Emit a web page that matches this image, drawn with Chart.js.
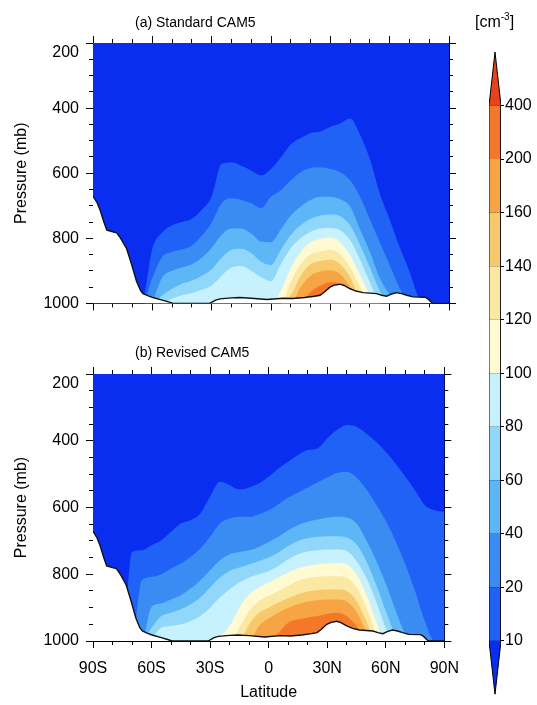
<!DOCTYPE html>
<html lang="en">
<head>
<meta charset="utf-8">
<title>Aerosol number concentration, CAM5</title>
<script src="https://cdn.jsdelivr.net/npm/chart.js@4/dist/chart.umd.min.js"></script>
<style>
  html, body { margin: 0; padding: 0; background: #fff; }
  #figure { position: relative; width: 537px; height: 705px; overflow: hidden;
            font-family: "Liberation Sans", Arial, Helvetica, sans-serif; color: #000; }
  #figure canvas { position: absolute; }
  .label { position: absolute; white-space: nowrap; line-height: 1; }
  .panel-title { font-size: 14px; }
  .unit { font-size: 16px; }
  .unit sup { font-size: 10px; vertical-align: 0; position: relative; top: -7px; }
</style>
</head>
<body>
<div id="figure">
  <canvas id="panelA" width="470" height="320" style="left:0;top:0"></canvas>
  <canvas id="panelB" width="470" height="375" style="left:0;top:330px"></canvas>
  <canvas id="colorbar" width="67" height="705" style="left:470px;top:0"></canvas>
  <div class="label panel-title" style="left:135px;top:15px">(a) Standard CAM5</div>
  <div class="label panel-title" style="left:135px;top:345px">(b) Revised CAM5</div>
  <div class="label unit" style="left:475px;top:14px">[cm<sup>-3</sup>]</div>
</div>
<script>
// latitude grid of the contour edges (deg, S negative)
const lats = [-90, -85, -80, -75, -70, -65, -60, -55, -50, -45, -40, -35, -30,
  -25, -20, -15, -10, -5, 0, 5, 10, 15, 20, 25, 30,
  35, 40, 45, 50, 55, 60, 65, 70, 75, 80, 85, 90];

const levelLabels = ['10', '20', '40', '60', '80', '100', '120', '140', '160', '200', '400'];
const latTickLabels = ['90S', '60S', '30S', '0', '30N', '60N', '90N'];

// <10, 10-20, 20-40, ... , 200-400, >400
const binColors = ['#0a2ef0', '#1f62f5', '#3a8cf3', '#5db6f6', '#90d7fa', '#c6f1fd',
  '#fffad2', '#fbe8a2', '#f8c96c', '#f7a444', '#f3782a', '#e6421b'];

// surface pressure (mb)
const terrainLat = [-90, -88, -86.5, -84.5, -83, -80, -78, -76, -73, -70.5, -68, -66, -64.7, -62,
  -59.7, -55, -51, -49.6, -31, -28, -25.8, -20, -15.7, -10, -2, 6, 11, 17, 22, 24.8, 27,
  29.8, 32, 34.9, 37, 40, 43, 46.5, 53.4, 56, 58.5, 61, 63.5, 66, 68.6, 71.8, 77.9, 79.5,
  81.2, 82, 90];
const terrainP = [671, 690, 712, 750, 775, 780, 783, 800, 832, 880, 932, 960, 970, 977,
  982, 990, 997, 1000, 1000, 990, 986, 983, 982, 984, 988, 984, 985, 982, 978, 975, 965,
  950, 944, 941, 945, 955, 962, 967, 970, 975, 978, 971, 967, 970, 975, 980, 981, 987,
  997, 1000, 1000];

// (a) Standard CAM5: pressure (mb) of the upper edge of each level, 1000 = absent
const stdP10 = [1000, 1000, 1000, 1000, 1000, 990, 832, 782, 760, 750, 740, 712, 672,
  572, 567, 577, 592, 607, 587, 552, 512, 492, 477, 472, 457,
  447, 432, 482, 557, 662, 742, 827, 902, 985, 1000, 1000, 1000];
const stdP20 = [1000, 1000, 1000, 1000, 1000, 1000, 922, 857, 842, 834, 822, 792, 752,
  692, 677, 682, 692, 707, 672, 652, 622, 597, 584, 582, 587,
  597, 622, 672, 742, 812, 882, 952, 1000, 1000, 1000, 1000, 1000];
const stdP40 = [1000, 1000, 1000, 1000, 1000, 1000, 990, 920, 900, 890, 880, 860, 830,
  790, 770, 770, 785, 810, 812, 772, 730, 702, 682, 672, 672,
  680, 702, 772, 842, 922, 972, 1000, 1000, 1000, 1000, 1000, 1000];
const stdP60 = [1000, 1000, 1000, 1000, 1000, 1000, 1000, 975, 955, 940, 930, 915, 895,
  860, 835, 832, 845, 872, 882, 835, 790, 760, 740, 730, 727,
  732, 760, 820, 890, 960, 1000, 1000, 1000, 1000, 1000, 1000, 1000];
const stdP80 = [1000, 1000, 1000, 1000, 1000, 1000, 1000, 1000, 985, 975, 968, 958, 945,
  915, 890, 885, 900, 920, 932, 880, 830, 800, 780, 770, 768,
  775, 805, 865, 935, 995, 1000, 1000, 1000, 1000, 1000, 1000, 1000];
const stdP100 = [1000, 1000, 1000, 1000, 1000, 1000, 1000, 1000, 1000, 1000, 1000, 1000, 1000,
  1000, 1000, 1000, 1000, 1000, 1000, 960, 892, 842, 812, 802, 797,
  812, 852, 912, 972, 1000, 1000, 1000, 1000, 1000, 1000, 1000, 1000];
const stdP120 = [1000, 1000, 1000, 1000, 1000, 1000, 1000, 1000, 1000, 1000, 1000, 1000, 1000,
  1000, 1000, 1000, 1000, 1000, 1000, 1000, 935, 880, 850, 840, 835,
  850, 890, 950, 1000, 1000, 1000, 1000, 1000, 1000, 1000, 1000, 1000];
const stdP140 = [1000, 1000, 1000, 1000, 1000, 1000, 1000, 1000, 1000, 1000, 1000, 1000, 1000,
  1000, 1000, 1000, 1000, 1000, 1000, 1000, 975, 915, 880, 870, 866,
  880, 920, 985, 1000, 1000, 1000, 1000, 1000, 1000, 1000, 1000, 1000];
const stdP160 = [1000, 1000, 1000, 1000, 1000, 1000, 1000, 1000, 1000, 1000, 1000, 1000, 1000,
  1000, 1000, 1000, 1000, 1000, 1000, 1000, 1000, 950, 915, 902, 898,
  910, 950, 1000, 1000, 1000, 1000, 1000, 1000, 1000, 1000, 1000, 1000];
const stdP200 = [1000, 1000, 1000, 1000, 1000, 1000, 1000, 1000, 1000, 1000, 1000, 1000, 1000,
  1000, 1000, 1000, 1000, 1000, 1000, 1000, 1000, 1000, 965, 945, 935,
  940, 975, 1000, 1000, 1000, 1000, 1000, 1000, 1000, 1000, 1000, 1000];

// (b) Revised CAM5
const revP10 = [1000, 1000, 1000, 1000, 733, 728, 713, 698, 673, 648, 638, 618, 568,
  523, 533, 546, 540, 528, 508, 483, 463, 443, 428, 423, 393,
  368, 353, 358, 378, 403, 433, 468, 508, 548, 593, 608, 613];
const revP20 = [1000, 1000, 1000, 1000, 1000, 818, 808, 800, 783, 768, 748, 723, 688,
  648, 633, 628, 628, 620, 608, 590, 570, 555, 540, 525, 510,
  497, 493, 510, 545, 590, 640, 700, 770, 850, 940, 1000, 1000];
const revP40 = [1000, 1000, 1000, 1000, 1000, 1000, 898, 888, 876, 863, 843, 818, 788,
  758, 740, 733, 728, 718, 703, 688, 668, 653, 643, 636, 631,
  628, 630, 648, 698, 758, 828, 908, 978, 1000, 1000, 1000, 1000];
const revP60 = [1000, 1000, 1000, 1000, 1000, 1000, 960, 925, 915, 905, 890, 870, 840,
  810, 790, 780, 770, 760, 750, 735, 715, 700, 692, 688, 686,
  686, 690, 710, 760, 830, 910, 980, 1000, 1000, 1000, 1000, 1000];
const revP80 = [1000, 1000, 1000, 1000, 1000, 1000, 990, 960, 955, 950, 940, 925, 900,
  870, 845, 825, 810, 800, 790, 775, 755, 740, 732, 728, 726,
  726, 730, 760, 810, 880, 960, 1000, 1000, 1000, 1000, 1000, 1000];
const revP100 = [1000, 1000, 1000, 1000, 1000, 1000, 1000, 1000, 1000, 1000, 1000, 1000, 1000,
  985, 955, 900, 860, 840, 825, 810, 795, 782, 775, 770, 768,
  766, 770, 800, 860, 940, 1000, 1000, 1000, 1000, 1000, 1000, 1000];
const revP120 = [1000, 1000, 1000, 1000, 1000, 1000, 1000, 1000, 1000, 1000, 1000, 1000, 1000,
  1000, 1000, 960, 910, 880, 865, 850, 835, 820, 812, 808, 806,
  806, 810, 840, 900, 975, 1000, 1000, 1000, 1000, 1000, 1000, 1000];
const revP140 = [1000, 1000, 1000, 1000, 1000, 1000, 1000, 1000, 1000, 1000, 1000, 1000, 1000,
  1000, 1000, 1000, 950, 915, 900, 885, 872, 860, 852, 848, 846,
  846, 850, 880, 940, 1000, 1000, 1000, 1000, 1000, 1000, 1000, 1000];
const revP160 = [1000, 1000, 1000, 1000, 1000, 1000, 1000, 1000, 1000, 1000, 1000, 1000, 1000,
  1000, 1000, 1000, 1000, 955, 932, 915, 900, 890, 882, 878, 876,
  876, 882, 912, 970, 1000, 1000, 1000, 1000, 1000, 1000, 1000, 1000];
const revP200 = [1000, 1000, 1000, 1000, 1000, 1000, 1000, 1000, 1000, 1000, 1000, 1000, 1000,
  1000, 1000, 1000, 1000, 1000, 1000, 975, 945, 935, 930, 925, 918,
  915, 925, 955, 1000, 1000, 1000, 1000, 1000, 1000, 1000, 1000, 1000];

const standardRows = [stdP10, stdP20, stdP40, stdP60, stdP80, stdP100, stdP120, stdP140, stdP160, stdP200];
const revisedRows = [revP10, revP20, revP40, revP60, revP80, revP100, revP120, revP140, revP160, revP200];

Chart.defaults.font.family = '"Liberation Sans", Arial, Helvetica, sans-serif';
Chart.defaults.font.size = 16;
Chart.defaults.color = '#000';

// fills the plot area with the "< 10" colour
const plotBackground = {
  id: 'plotBackground',
  beforeDatasetsDraw(chart, args, opts) {
    const { ctx, chartArea } = chart;
    ctx.save();
    ctx.fillStyle = opts.color;
    ctx.fillRect(chartArea.left, chartArea.top, chartArea.width, chartArea.height);
    ctx.restore();
  }
};

function contourDatasets(rows) {
  return rows.map((row, i) => ({
    data: row.map((p, j) => ({ x: lats[j], y: p })),
    xAxisID: 'x',
    yAxisID: 'y',
    backgroundColor: binColors[i + 1],
    borderColor: 'transparent',
    borderWidth: 0,
    fill: { value: 1000 },
    cubicInterpolationMode: 'monotone',
    order: 100 - i
  }));
}

function terrainDataset() {
  return {
    data: terrainLat.map((lat, i) => ({ x: lat, y: terrainP[i] })),
    xAxisID: 'x',
    yAxisID: 'y',
    backgroundColor: '#fff',
    borderColor: '#111',
    borderWidth: 1.4,
    fill: { value: 1000 },
    order: 0
  };
}

// one axis of the frame; majors carry the long ticks, minors the short ones
function frameAxis(position, major, size, extra) {
  const horizontal = position === 'top' || position === 'bottom';
  return Object.assign({
    type: 'linear',
    position: position,
    min: horizontal ? -90 : 200,
    max: horizontal ? 90 : 1000,
    reverse: !horizontal,
    weight: major ? 1 : 0,
    z: 1,
    border: { display: major, color: '#000', width: 1 },
    grid: { drawOnChartArea: false, tickLength: major ? 7 : 4, tickColor: '#000', tickWidth: 1 },
    ticks: { display: false, stepSize: horizontal ? (major ? 30 : 10) : (major ? 200 : 50) },
    afterFit(scale) {
      if (horizontal) scale.height = size;
      else scale.width = size;
    }
  }, extra);
}

function panelScales(bottomHeight, withLatLabels) {
  const scales = {
    x: frameAxis('bottom', true, bottomHeight),
    xMinor: frameAxis('bottom', false, 0),
    xTop: frameAxis('top', true, 10),
    xTopMinor: frameAxis('top', false, 0),
    y: frameAxis('left', true, 93, {
      ticks: {
        stepSize: 200,
        padding: 7,
        // the top label sits a little inside the frame
        callback: (v) => (v === 200 ? ['', '200'] : String(v))
      },
      title: { display: true, text: 'Pressure (mb)', font: { size: 16 }, padding: { top: 12, bottom: 0 } }
    }),
    yMinor: frameAxis('left', false, 0),
    yRight: frameAxis('right', true, 21),
    yRightMinor: frameAxis('right', false, 0)
  };
  if (withLatLabels) {
    scales.x.ticks = { stepSize: 30, padding: 11, callback: (v) => latTickLabels[(v + 90) / 30] };
    scales.x.title = { display: true, text: 'Latitude', font: { size: 16 }, padding: { top: 0, bottom: 3 } };
  }
  return scales;
}

function makePanel(canvasId, rows, topPad, bottomHeight, withLatLabels) {
  return new Chart(document.getElementById(canvasId), {
    type: 'line',
    data: { datasets: contourDatasets(rows).concat([terrainDataset()]) },
    options: {
      responsive: false,
      animation: false,
      devicePixelRatio: 1,
      events: [],
      layout: { padding: { top: topPad, left: 0, right: 0, bottom: 0 } },
      plugins: {
        legend: { display: false },
        tooltip: { enabled: false },
        plotBackground: { color: binColors[0] }
      },
      elements: { point: { radius: 0 }, line: { tension: 0 } },
      scales: panelScales(bottomHeight, withLatLabels)
    },
    plugins: [plotBackground]
  });
}

makePanel('panelA', standardRows, 33, 10, false);
makePanel('panelB', revisedRows, 34, 64, true);

// colour bar: level index on y (10 -> 0 ... 400 -> 10), triangles for the open ends
const barSegments = levelLabels.slice(1).map((label, k) => ({
  data: [{ x: 0, y: k + 1 }, { x: 1, y: k + 1 }],
  backgroundColor: binColors[k + 1],
  borderColor: 'transparent',
  borderWidth: 0,
  fill: { value: k },
  order: 1
}));
const lowTip = {
  data: [{ x: 0, y: 0 }, { x: 0.5, y: -1 }, { x: 1, y: 0 }],
  backgroundColor: binColors[0], borderColor: 'transparent', borderWidth: 0,
  fill: { value: 0 }, order: 1
};
const highTip = {
  data: [{ x: 0, y: 10 }, { x: 0.5, y: 11 }, { x: 1, y: 10 }],
  backgroundColor: binColors[11], borderColor: 'transparent', borderWidth: 0,
  fill: { value: 10 }, order: 1
};
const barOutline = {
  data: [{ x: 0.5, y: -1 }, { x: 0, y: 0 }, { x: 0, y: 10 }, { x: 0.5, y: 11 },
    { x: 1, y: 10 }, { x: 1, y: 0 }, { x: 0.5, y: -1 }],
  borderColor: '#000', borderWidth: 1, fill: false, order: 0
};

new Chart(document.getElementById('colorbar'), {
  type: 'line',
  data: { datasets: barSegments.concat([lowTip, highTip, barOutline]) },
  options: {
    responsive: false,
    animation: false,
    devicePixelRatio: 1,
    events: [],
    layout: { padding: { left: 19, top: 52, bottom: 7, right: 0 } },
    plugins: { legend: { display: false }, tooltip: { enabled: false } },
    elements: { point: { radius: 0 }, line: { tension: 0 } },
    scales: {
      x: { type: 'linear', min: 0, max: 1, display: false },
      y: {
        type: 'linear',
        position: 'right',
        min: -1,
        max: 11,
        z: 1,
        border: { display: false },
        grid: { drawOnChartArea: true, color: '#000', lineWidth: 1, tickLength: 3 },
        ticks: { stepSize: 1, padding: 1, callback: (v) => levelLabels[v] },
        afterBuildTicks(scale) {
          scale.ticks = scale.ticks.filter((t) => t.value >= 0 && t.value <= 10);
        },
        afterFit(scale) { scale.width = 36; }
      }
    }
  }
});
</script>
</body>
</html>
